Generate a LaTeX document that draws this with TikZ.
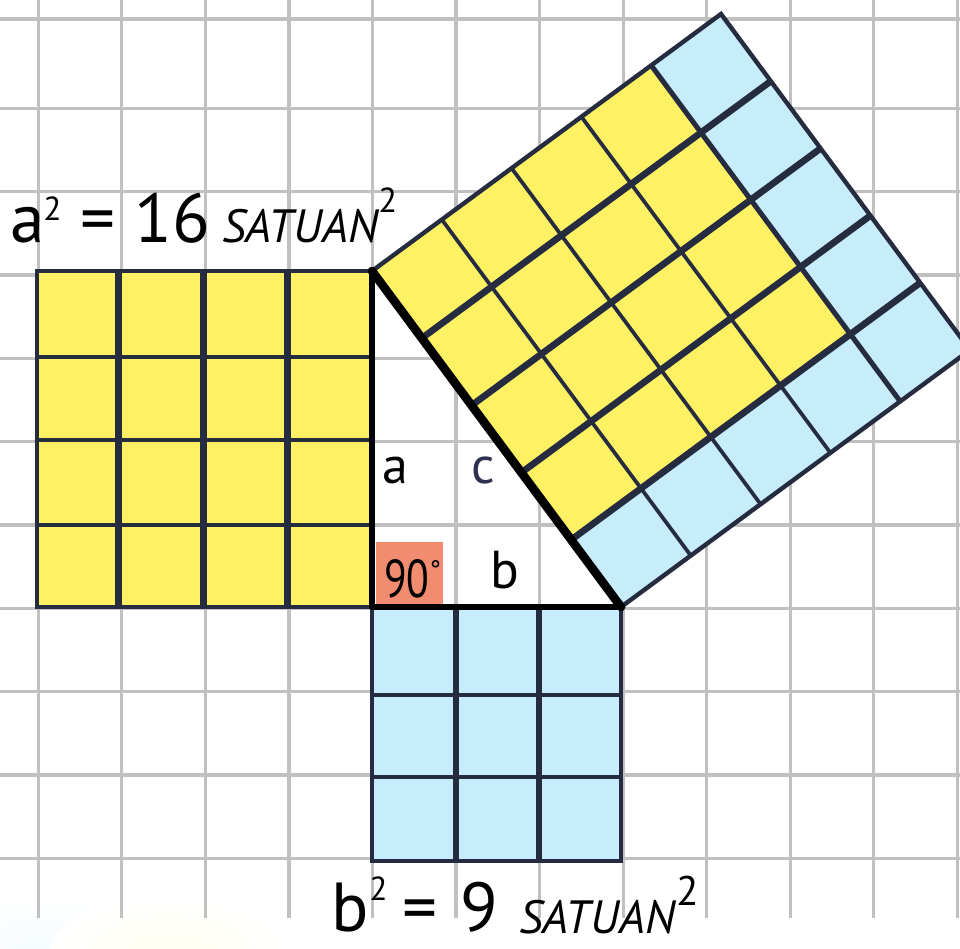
\documentclass[tikz,border=0pt]{standalone}
\usepackage{fontspec}
\setmainfont{PT Sans}
\usepackage{graphicx}
\usetikzlibrary{calc}
\definecolor{gridc}{RGB}{192,192,192}
\definecolor{sqyellow}{RGB}{255,241,100}
\definecolor{sqblue}{RGB}{199,236,252}
\definecolor{navy}{RGB}{38,44,64}
\definecolor{anglec}{RGB}{242,140,112}
\definecolor{clabel}{RGB}{46,50,80}
\begin{document}
\begin{tikzpicture}[x=0.75pt,y=-0.75pt,
  gridline/.style={draw=gridc,line width=2.4pt},
  vline/.style={draw=navy,line width=5pt},
  hline/.style={draw=navy,line width=3.3pt},
  border/.style={draw=navy,line width=3.3pt,line join=miter},
  hypthick/.style={draw=navy,line width=5pt},
  hypthin/.style={draw=navy,line width=2.8pt},
  hypmid/.style={draw=navy,line width=3.8pt},
  leg/.style={draw=black,line width=5pt,line cap=round,line join=round},
  hypleg/.style={draw=black,line width=6.5pt,line cap=round},
  txt/.style={inner sep=0pt,anchor=base west,text=black},
]
\useasboundingbox (0,0) rectangle (960,949);
\clip (0,0) rectangle (960,949);
\fill[white] (0,0) rectangle (960,949);
% faint haze bottom left
\shade[inner color=sqblue!18,outer color=white] (40,955) ellipse (110 and 60);
\shade[inner color=sqyellow!10,outer color=white] (170,955) ellipse (120 and 60);
% background grid
\foreach \k in {0,...,11} \draw[gridline] ({38.3+83.55*\k},0) -- ({38.3+83.55*\k},918);
\foreach \y in {19,108.3,191.7,275,358.3,441.7,525,608.3,691.7,775,858.3} \draw[gridline] (0,\y) -- (960,\y);

% triangle corners
\coordinate (A) at (372,271);
\coordinate (B) at (621,607);
\coordinate (C) at (372,607);
\coordinate (D) at (721,14);
\coordinate (E) at (970,350);

% left square a^2
\fill[sqyellow] (37,271) rectangle (372,607);
\foreach \x in {118.5,203.5,287.5} \draw[vline] (\x,271) -- (\x,607);
\foreach \y in {357,440,525} \draw[hline] (37,\y) -- (372,\y);
\draw[border] (37,271) rectangle (372,607);

% bottom square b^2
\fill[sqblue] (372,607) rectangle (621,861);
\foreach \x in {456,539} \draw[vline] (\x,607) -- (\x,861);
\foreach \y in {695,777} \draw[hline] (372,\y) -- (621,\y);
\draw[border] (372,607) rectangle (621,861);

% hypotenuse square c^2
\fill[sqblue] (A) -- (B) -- (E) -- (D) -- cycle;
\fill[sqyellow] (372,271) -- (571.2,539.8) -- (850.4,334.2) -- (651.2,65.4) -- cycle;
\foreach \j in {1,2,3} \draw[hypthin] ({372+69.8*\j},{271-51.4*\j}) -- ({621+69.8*\j},{607-51.4*\j});
\draw[hypmid] (651.2,65.4) -- (900.2,401.4);
\foreach \i in {1,2,3,4} \draw[hypthick] ({372+49.8*\i},{271+67.2*\i}) -- ({721+49.8*\i},{14+67.2*\i});
\draw[border] (A) -- (B) -- (E) -- (D) -- cycle;

% right angle mark
\fill[anglec] (376,542) rectangle (443,605);

% triangle
\draw[leg] (A) -- (C) -- (B);
\draw[hypleg] (A) -- (B);

% labels inside
\node[txt,font=\fontsize{39}{39}\selectfont] (la) at (382,483) {a};
\node[txt,font=\fontsize{39}{39}\selectfont,text=clabel] (lc) at (471,483) {c};
\node[txt,font=\fontsize{40}{40}\selectfont] (lb) at (490,588) {b};
\node[txt] (l90) at (384,597) {\fontsize{40}{40}\selectfont\scalebox{0.78}[1]{90}\raisebox{13pt}{\fontsize{20}{20}\selectfont °}};

% top formula
\node[txt,font=\fontsize{52}{52}\selectfont] (ta) at (10,242) {a};
\node[txt,font=\fontsize{25}{25}\selectfont] (ta2) at (43,220) {2};
\node[txt,font=\fontsize{52}{52}\selectfont] (teq) at (80,242) {=};
\node[txt,font=\fontsize{52}{52}\selectfont] (t16) at (134,242) {16};
\node[txt,font=\fontsize{35}{35}\selectfont\itshape] (tsat) at (222,242) {SATUAN};
\node[txt,font=\fontsize{26}{26}\selectfont] (tsq) at (378,212) {2};

% bottom formula
\node[txt,font=\fontsize{52}{52}\selectfont] (bb) at (331,931) {b};
\node[txt,font=\fontsize{25}{25}\selectfont] (bb2) at (369,900) {2};
\node[txt,font=\fontsize{52}{52}\selectfont] (beq) at (402,931) {=};
\node[txt,font=\fontsize{52}{52}\selectfont] (b9) at (460,931) {9};
\node[txt,font=\fontsize{35}{35}\selectfont\itshape] (bsat) at (519,933) {SATUAN};
\node[txt,font=\fontsize{31}{31}\selectfont] (bsq) at (676,905) {2};
\end{tikzpicture}
\end{document}
